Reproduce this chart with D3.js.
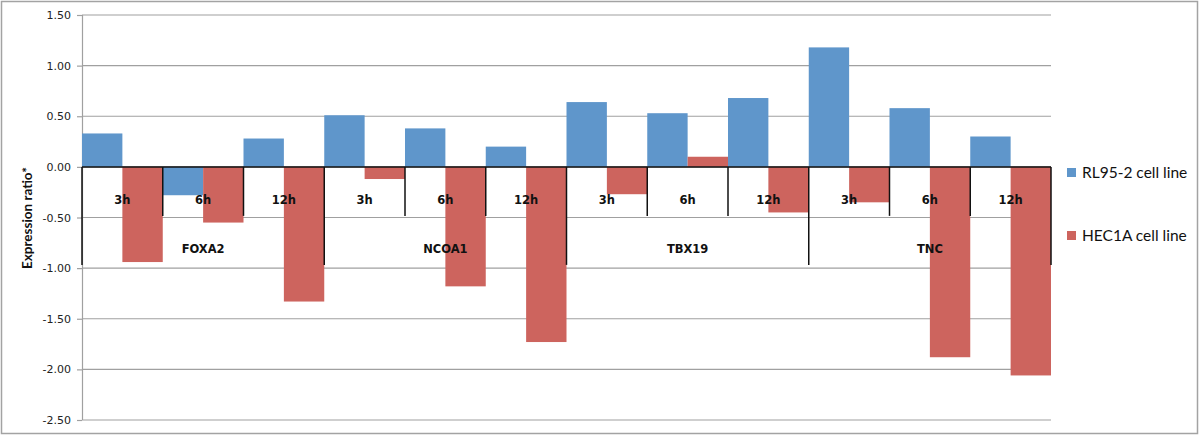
<!DOCTYPE html>
<html>
<head>
<meta charset="utf-8">
<script src="https://cdn.jsdelivr.net/npm/d3@7"></script>
<style>
  body { margin: 0; background: #fff; }
  svg { display: block; }
</style>
</head>
<body>
<script>
// data
const genes = ['FOXA2', 'NCOA1', 'TBX19', 'TNC'];
const times = ['3h', '6h', '12h'];
const seriesNames = ['RL95-2 cell line', 'HEC1A cell line'];
const rl95 = [0.33, -0.28, 0.28, 0.51, 0.38, 0.20, 0.64, 0.53, 0.68, 1.18, 0.58, 0.30];
const hec1a = [-0.94, -0.55, -1.33, -0.12, -1.18, -1.73, -0.27, 0.10, -0.45, -0.35, -1.88, -2.06];
const yTicks = [1.5, 1.0, 0.5, 0.0, -0.5, -1.0, -1.5, -2.0, -2.5];

const colors = ['#5f96cb', '#cd645e'];

let width = 1200,
    height = 436;

const plotLeft = 82, plotRight = 1051, plotTop = 15, plotBottom = 420;

const svg = d3.select('body').append('svg')
    .attr('width', width)
    .attr('height', height);

// outer frame
svg.append('rect')
    .attr('x', 1.5).attr('y', 1.5)
    .attr('width', width - 4).attr('height', height - 4)
    .attr('fill', '#fff')
    .attr('stroke', '#a3a3a3')
    .attr('stroke-width', 1.5);

// one entry per inner category
const cats = [];
genes.forEach(function (g) {
    times.forEach(function (t) {
        cats.push({ gene: g, time: t, key: g + '-' + t });
    });
});
cats.forEach(function (c, i) {
    c.values = [rl95[i], hec1a[i]];
});

const x = d3.scaleBand()
    .domain(cats.map(d => d.key))
    .range([plotLeft, plotRight])
    .paddingInner(0)
    .paddingOuter(0);

const xs = d3.scaleBand()
    .domain(seriesNames)
    .range([0, x.bandwidth()])
    .padding(0);

const y = d3.scaleLinear()
    .domain([-2.5, 1.5])
    .range([plotBottom, plotTop]);

// gridlines
svg.append('g')
    .selectAll('line')
    .data(yTicks)
    .enter().append('line')
    .attr('x1', plotLeft).attr('x2', plotRight)
    .attr('y1', d => y(d)).attr('y2', d => y(d))
    .attr('stroke', '#a0a0a0')
    .attr('stroke-width', 1.2);

// y axis, plain hyphen for minus like the original
const fmt = d3.format('.2f');
const yAxis = svg.append('g')
    .attr('transform', 'translate(' + plotLeft + ',0)')
    .call(d3.axisLeft(y)
        .tickValues(yTicks)
        .tickSize(5)
        .tickPadding(6)
        .tickFormat(d => fmt(d).replace('\u2212', '-')));
yAxis.selectAll('path, line').attr('stroke', '#a0a0a0').attr('stroke-width', 1.2);
yAxis.select('.domain').attr('d', 'M0.5,' + plotTop + 'V' + plotBottom);
yAxis.selectAll('text')
    .attr('font-family', 'DejaVu Sans, Verdana, sans-serif')
    .attr('font-size', 11)
    .attr('fill', '#222');

// bars
svg.append('g')
    .selectAll('g')
    .data(cats)
    .enter().append('g')
    .attr('transform', d => 'translate(' + x(d.key) + ',0)')
    .selectAll('rect')
    .data(d => d.values.map((v, i) => ({ name: seriesNames[i], value: v, i: i })))
    .enter().append('rect')
    .attr('x', d => xs(d.name))
    .attr('width', xs.bandwidth())
    .attr('y', d => y(Math.max(0, d.value)))
    .attr('height', d => Math.abs(y(d.value) - y(0)))
    .attr('fill', d => colors[d.i]);

// category axis (two levels)
const y0 = y(0);
const cat = svg.append('g');
cat.append('line')
    .attr('x1', plotLeft).attr('x2', plotRight)
    .attr('y1', y0).attr('y2', y0)
    .attr('stroke', '#111').attr('stroke-width', 1.5);

const bounds = d3.range(cats.length + 1);
cat.selectAll('.tick')
    .data(bounds)
    .enter().append('line')
    .attr('x1', d => d === cats.length ? plotRight : x(cats[d].key))
    .attr('x2', d => d === cats.length ? plotRight : x(cats[d].key))
    .attr('y1', y0)
    .attr('y2', d => d % 3 === 0 ? y0 + 98 : y0 + 49)
    .attr('stroke', '#111').attr('stroke-width', 1.5);

cat.selectAll('.time')
    .data(cats)
    .enter().append('text')
    .attr('x', d => x(d.key) + x.bandwidth() / 2)
    .attr('y', y0 + 37)
    .attr('text-anchor', 'middle')
    .attr('font-family', 'DejaVu Sans, Verdana, sans-serif')
    .attr('font-weight', 'bold')
    .attr('font-size', 11.5)
    .attr('fill', '#111')
    .text(d => d.time);

cat.selectAll('.gene')
    .data(genes)
    .enter().append('text')
    .attr('x', (d, i) => x(cats[i * 3].key) + x.bandwidth() * 1.5)
    .attr('y', y0 + 86)
    .attr('text-anchor', 'middle')
    .attr('font-family', 'DejaVu Sans, Verdana, sans-serif')
    .attr('font-weight', 'bold')
    .attr('font-size', 11.5)
    .attr('fill', '#111')
    .text(d => d);

// y title
svg.append('text')
    .attr('transform', 'translate(32,' + 218 + ') rotate(-90)')
    .attr('text-anchor', 'middle')
    .attr('font-family', 'Lato, sans-serif')
    .attr('font-weight', 'bold')
    .attr('font-size', 13.5)
    .attr('fill', '#111')
    .text('Expression ratio*');

// legend
const legend = svg.append('g')
    .attr('transform', 'translate(1067,168)');
const item = legend.selectAll('g')
    .data(seriesNames)
    .enter().append('g')
    .attr('transform', (d, i) => 'translate(0,' + i * 63 + ')');
item.append('rect')
    .attr('width', 9).attr('height', 9)
    .attr('fill', (d, i) => colors[i]);
item.append('text')
    .attr('x', 15)
    .attr('y', 10)
    .attr('font-family', 'Lato, sans-serif')
    .attr('font-size', 15.5)
    .attr('fill', '#111')
    .text(d => d);
</script>
</body>
</html>
